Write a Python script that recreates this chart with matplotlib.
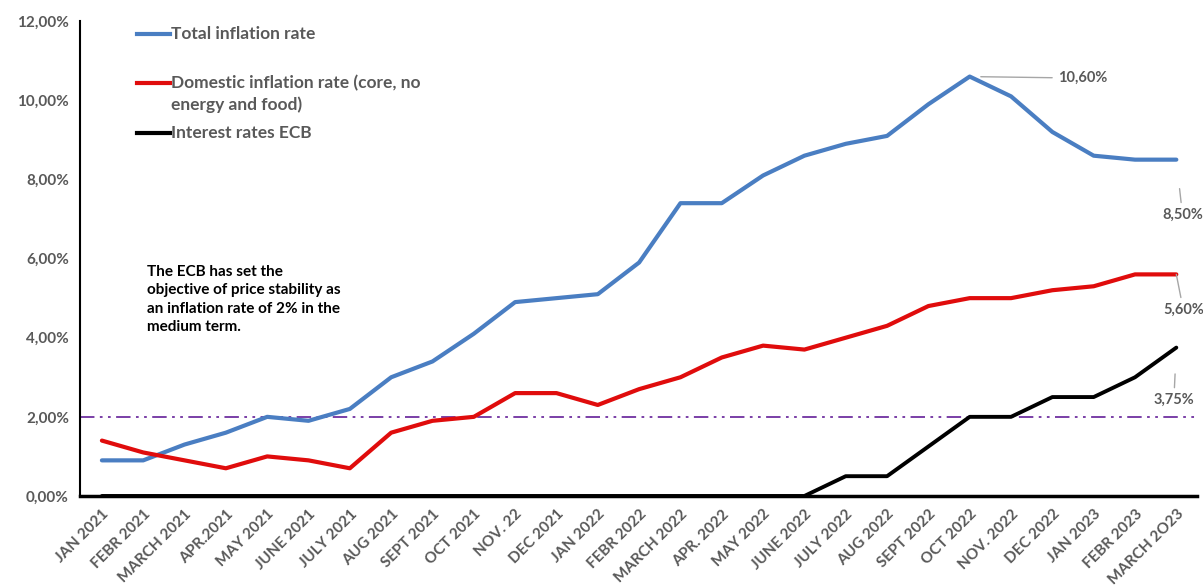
import matplotlib.pyplot as plt
from matplotlib.lines import Line2D
from matplotlib.ticker import FuncFormatter

months = ["JAN 2021", "FEBR 2021", "MARCH 2021", "APR.2021", "MAY 2021", "JUNE 2021",
          "JULY 2021", "AUG 2021", "SEPT 2021", "OCT 2021", "NOV. 22", "DEC 2021",
          "JAN 2022", "FEBR 2022", "MARCH 2022", "APR. 2022", "MAY 2022", "JUNE 2022",
          "JULY 2022", "AUG 2022", "SEPT 2022", "OCT 2022", "NOV. 2022", "DEC 2022",
          "JAN 2023", "FEBR 2023", "MARCH 2O23"]

total = [0.9, 0.9, 1.3, 1.6, 2.0, 1.9, 2.2, 3.0, 3.4, 4.1, 4.9, 5.0, 5.1, 5.9,
         7.4, 7.4, 8.1, 8.6, 8.9, 9.1, 9.9, 10.6, 10.1, 9.2, 8.6, 8.5, 8.5]
core = [1.4, 1.1, 0.9, 0.7, 1.0, 0.9, 0.7, 1.6, 1.9, 2.0, 2.6, 2.6, 2.3, 2.7,
        3.0, 3.5, 3.8, 3.7, 4.0, 4.3, 4.8, 5.0, 5.0, 5.2, 5.3, 5.6, 5.6]
ecb = [0, 0, 0, 0, 0, 0, 0, 0, 0, 0, 0, 0, 0, 0, 0, 0, 0, 0,
       0.5, 0.5, 1.25, 2.0, 2.0, 2.5, 2.5, 3.0, 3.75]
target = 2.0

GREY = "#595959"
plt.rcParams["font.family"] = ["Lato", "DejaVu Sans"]

fig = plt.figure(figsize=(12.03, 5.88), dpi=100)
ax = fig.add_axes([0.0665, 0.1565, 0.9285, 0.8075])

x = list(range(len(months)))
ax.axhline(target, color="#7030A0", lw=1.3, dashes=(8, 3, 1.5, 3, 1.5, 3), zorder=1)
ax.plot(x, total, color="#4A7EC2", lw=3, solid_capstyle="round", zorder=3)
ax.plot(x, core, color="#E00C0C", lw=3, solid_capstyle="round", zorder=3)
ax.plot(x, ecb, color="black", lw=2.8, solid_capstyle="round", zorder=3)

ax.set_xlim(-0.53, 26.5)
ax.set_ylim(0, 12)
ax.set_yticks(range(0, 13, 2))
ax.yaxis.set_major_formatter(FuncFormatter(lambda v, _: f"{v:.2f}%".replace(".", ",")))
ax.set_xticks(x)
ax.set_xticklabels(months, rotation=45, ha="right", rotation_mode="anchor")
ax.tick_params(length=0, labelcolor=GREY, labelsize=11, pad=8)
for lab in ax.get_xticklabels() + ax.get_yticklabels():
    lab.set_fontweight("bold")
for s in ["top", "right"]:
    ax.spines[s].set_visible(False)
ax.spines["left"].set_linewidth(1.5)
ax.spines["bottom"].set_linewidth(2.5)

# end / peak labels with leader lines
lead = dict(color="#A6A6A6", lw=1)
lab = dict(color=GREY, fontsize=10.5, fontweight="bold")
ax.annotate("10,60%", xy=(21, total[21]), xytext=(23.13, 10.56), va="center",
            arrowprops=dict(arrowstyle="-", shrinkB=8, **lead), **lab)
ax.annotate("8,50%", xy=(26, total[26]), xytext=(26.15, 7.1), ha="center", va="center",
            arrowprops=dict(arrowstyle="-", shrinkB=21, **lead), **lab)
ax.annotate("5,60%", xy=(26, core[26]), xytext=(26.17, 4.7), ha="center", va="center",
            arrowprops=dict(arrowstyle="-", shrinkB=18, **lead), **lab)
ax.annotate("3,75%", xy=(26, ecb[26]), xytext=(25.94, 2.42), ha="center", va="center",
            arrowprops=dict(arrowstyle="-", shrinkB=19, **lead), **lab)

ax.text(1.1, 5.85, "The ECB has set the\nobjective of price stability as\n"
        "an inflation rate of 2% in the\nmedium term.",
        fontsize=11, fontweight="bold", va="top", linespacing=1.42)

# legend drawn by hand, as in the original
items = [("#4A7EC2", "Total inflation rate", 34, 34),
         ("#E00C0C", "Domestic inflation rate (core, no\nenergy and food)", 83, 94),
         ("black", "Interest rates ECB", 133, 133)]
for col, txt, ypx, ytxt in items:
    yf = 1 - ypx / 588
    fig.add_artist(Line2D([137 / 1203, 170 / 1203], [yf, yf], color=col, lw=3))
    fig.text(171 / 1203, 1 - ytxt / 588, txt, color=GREY, fontsize=12.5,
             fontweight="bold", va="center", linespacing=1.45)

fig.savefig("out.png", dpi=100)
